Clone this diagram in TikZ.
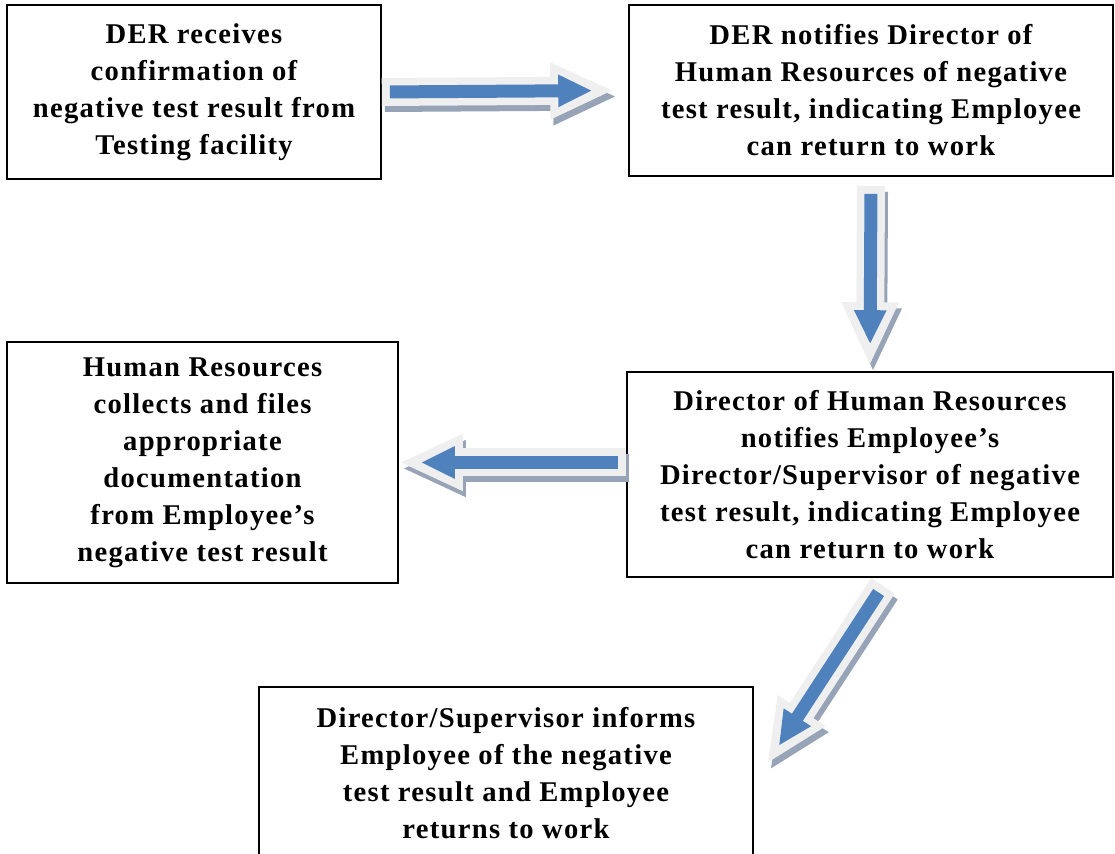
\documentclass[tikz,border=0pt]{standalone}
\usepackage{fontspec}
\setmainfont{Liberation Serif}[LetterSpace=4.5]
\usetikzlibrary{arrows.meta}
\definecolor{arrowblue}{HTML}{4F81BD}
\definecolor{arrowhalo}{HTML}{EFEFEF}
\definecolor{arrowshade}{HTML}{97A3B6}
\tikzset{
  stepbox/.style={draw, line width=0.8pt, align=center, inner sep=0pt,
    font=\bfseries\fontsize{14.3}{18.5}\selectfont},
  flow/.style={
    preaction={draw=arrowshade, line width=14pt, -{Triangle[length=32pt,width=26pt]},
      shorten >=0pt, shorten <=0pt, transform canvas={shift={(1.5pt,-3pt)}}},
    preaction={draw=arrowhalo, line width=14pt, -{Triangle[length=32pt,width=26pt]},
      shorten >=0pt, shorten <=0pt},
    draw=arrowblue, line width=6.5pt, -{Triangle[length=17pt,width=15pt]},
    shorten >=11pt, shorten <=4pt}
}
\begin{document}
\begin{tikzpicture}[x=0.5pt,y=-0.5pt]
\useasboundingbox (0,0) rectangle (1115,854);
% steps
\node[stepbox, minimum width=187pt, minimum height=87pt] (recv) at (194,92)
  {DER receives\\confirmation of\\negative test result from\\Testing facility};
\node[stepbox, minimum width=242pt, minimum height=85.5pt] (notify) at (871,90.5)
  {DER notifies Director of\\Human Resources of negative\\test result, indicating Employee\\can return to work};
\node[stepbox, minimum width=243pt, minimum height=102.5pt] (hrdir) at (870,474.5)
  {Director of Human Resources\\notifies Employee's\\Director/Supervisor of negative\\test result, indicating Employee\\can return to work};
\node[stepbox, minimum width=195.5pt, minimum height=120.5pt] (files) at (202.5,462.5)
  {Human Resources\\collects and files\\appropriate\\documentation\\from Employee's\\negative test result};
\node[stepbox, minimum width=247pt, minimum height=86pt] (inform) at (506,773)
  {Director/Supervisor informs\\Employee of the negative\\test result and Employee\\returns to work};
% arrows
\draw[flow] (recv.east) -- ([xshift=-7pt]notify.west);
\draw[flow] ([yshift=-4.5pt]notify.south) -- ([yshift=2.5pt]hrdir.north);
\draw[flow] (hrdir.west |- files.east) -- (files.east);
\draw[flow] ([shift={(6.5pt,-4pt)}]hrdir.south) -- ([shift={(6.5pt,-39pt)}]inform.north east);
\end{tikzpicture}
\end{document}
